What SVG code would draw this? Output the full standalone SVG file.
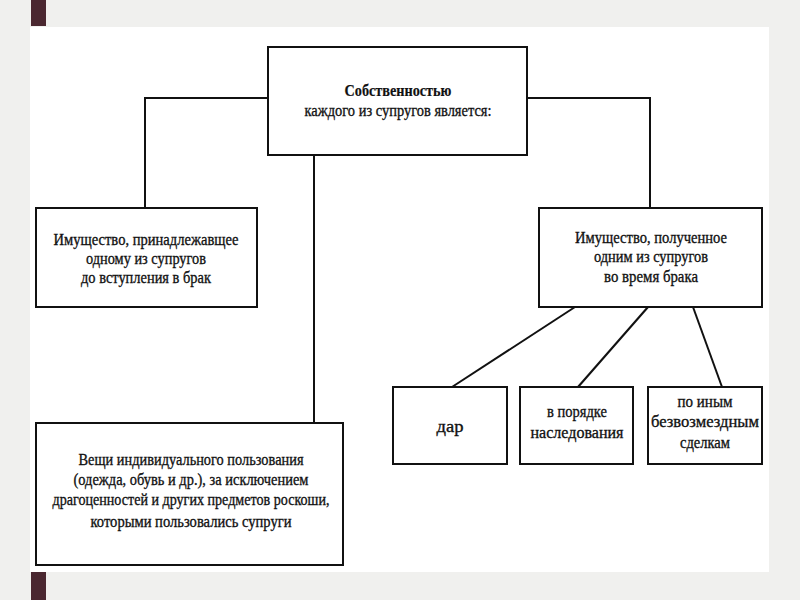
<svg xmlns="http://www.w3.org/2000/svg" width="800" height="600" viewBox="0 0 800 600">
<style>
.box{fill:#fff;stroke:#111;stroke-width:2}
.ln{fill:none;stroke:#111;stroke-width:2}
text{font-family:"Liberation Serif","Times New Roman",serif;font-size:17px;fill:#111;stroke:#111;stroke-width:0.35;text-anchor:middle}
.b{font-weight:bold;stroke-width:0.2}
</style>
<rect width="800" height="600" fill="#f0f0ee"/>
<rect x="30" y="27" width="739" height="545" fill="#fff"/>
<rect x="31" y="0" width="15" height="26" fill="#4a2730"/>
<rect x="31" y="572" width="15" height="28" fill="#4a2730"/>
<g id="connectors">
<polyline class="ln" points="268,98 145,98 145,208"/>
<polyline class="ln" points="527,98 650,98 650,208"/>
<line class="ln" x1="314" y1="155" x2="314" y2="423"/>
<line class="ln" x1="575" y1="307" x2="452" y2="387"/>
<line class="ln" x1="648" y1="307" x2="578" y2="387"/>
<line class="ln" x1="693" y1="307" x2="722" y2="387"/>
</g>
<g id="root">
<rect class="box" x="268" y="47" width="259" height="108"/>
<text class="b" x="398" y="96" textLength="107" lengthAdjust="spacingAndGlyphs">Собственностью</text>
<text x="398" y="116" textLength="187" lengthAdjust="spacingAndGlyphs">каждого из супругов является:</text>
</g>
<g id="before">
<rect class="box" x="36" y="208" width="221" height="99"/>
<text x="146" y="245" textLength="185" lengthAdjust="spacingAndGlyphs">Имущество, принадлежавщее</text>
<text x="146" y="264" textLength="120" lengthAdjust="spacingAndGlyphs">одному из супругов</text>
<text x="146" y="283" textLength="130" lengthAdjust="spacingAndGlyphs">до вступления в брак</text>
</g>
<g id="during">
<rect class="box" x="539" y="208" width="223" height="99"/>
<text x="651" y="243" textLength="152" lengthAdjust="spacingAndGlyphs">Имущество, полученное</text>
<text x="651" y="262" textLength="114" lengthAdjust="spacingAndGlyphs">одним из супругов</text>
<text x="651" y="282" textLength="94" lengthAdjust="spacingAndGlyphs">во время брака</text>
</g>
<g id="gift">
<rect class="box" x="393" y="387" width="114" height="77"/>
<text x="450" y="432" textLength="27" lengthAdjust="spacingAndGlyphs">дар</text>
</g>
<g id="inherit">
<rect class="box" x="520" y="387" width="113" height="77"/>
<text x="577" y="417" textLength="60" lengthAdjust="spacingAndGlyphs">в порядке</text>
<text x="577" y="438" textLength="93" lengthAdjust="spacingAndGlyphs">наследования</text>
</g>
<g id="other">
<rect class="box" x="648" y="387" width="114" height="77"/>
<text x="705" y="407" textLength="55" lengthAdjust="spacingAndGlyphs">по иным</text>
<text x="705" y="427" textLength="108" lengthAdjust="spacingAndGlyphs">безвозмездным</text>
<text x="705" y="448" textLength="50" lengthAdjust="spacingAndGlyphs">сделкам</text>
</g>
<g id="personal">
<rect class="box" x="36" y="423" width="307" height="142"/>
<text x="191" y="465" textLength="225" lengthAdjust="spacingAndGlyphs">Вещи индивидуального пользования</text>
<text x="191" y="485" textLength="235" lengthAdjust="spacingAndGlyphs">(одежда, обувь и др.), за исключением</text>
<text x="191" y="505" textLength="277" lengthAdjust="spacingAndGlyphs">драгоценностей и других предметов роскоши,</text>
<text x="191" y="527" textLength="201" lengthAdjust="spacingAndGlyphs">которыми пользовались супруги</text>
</g>
</svg>
